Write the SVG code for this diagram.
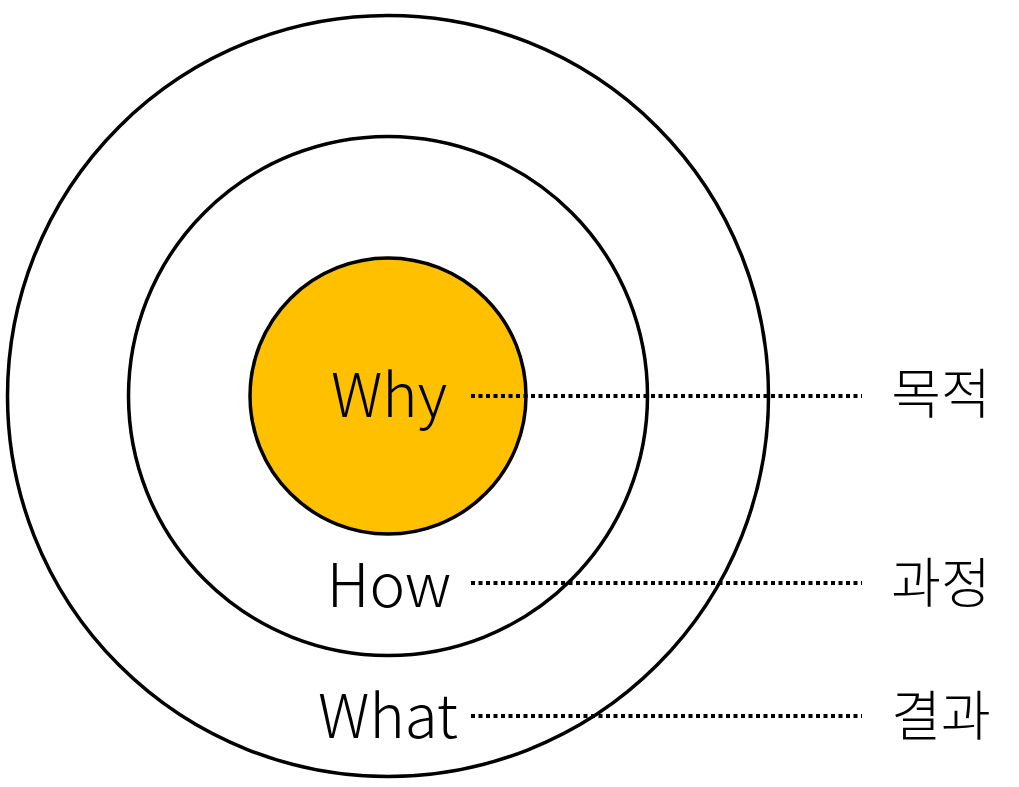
<svg xmlns="http://www.w3.org/2000/svg" width="1019" height="787" viewBox="0 0 1019 787">
<style>
.ring{fill:none;stroke:#000;stroke-width:3.5}
.core{fill:#FFC000;stroke:#000;stroke-width:3.5}
.lbl{font-family:"Noto Sans CJK KR","Liberation Sans",sans-serif;font-size:60px;font-weight:300;fill:#000}
.ko{font-family:"Noto Sans CJK KR",sans-serif;font-size:54px;font-weight:300;fill:#000}
.dot{stroke:#000;stroke-width:4;stroke-dasharray:4 3.5;fill:none}
</style>
<rect width="1019" height="787" fill="#fff"/>
<g id="what-ring"><circle class="ring" cx="388" cy="396" r="380.5"/></g>
<g id="how-ring"><circle class="ring" cx="388" cy="396" r="259.5"/></g>
<g id="why-core"><circle class="core" cx="388" cy="396" r="138"/></g>
<g id="connectors">
<line class="dot" x1="471" y1="396" x2="862" y2="396"/>
<line class="dot" x1="471" y1="583" x2="862" y2="583"/>
<line class="dot" x1="471" y1="716" x2="862" y2="716"/>
</g>
<g id="why-label"><text class="lbl" x="389" y="417" text-anchor="middle">Why</text></g>
<g id="how-label"><text class="lbl" x="389" y="607" text-anchor="middle">How</text></g>
<g id="what-label"><text class="lbl" x="388" y="738" text-anchor="middle">What</text></g>
<g id="purpose"><text class="ko" x="941" y="414" text-anchor="middle">목적</text></g>
<g id="process"><text class="ko" x="941" y="603" text-anchor="middle">과정</text></g>
<g id="result"><text class="ko" x="941" y="736" text-anchor="middle">결과</text></g>
</svg>
